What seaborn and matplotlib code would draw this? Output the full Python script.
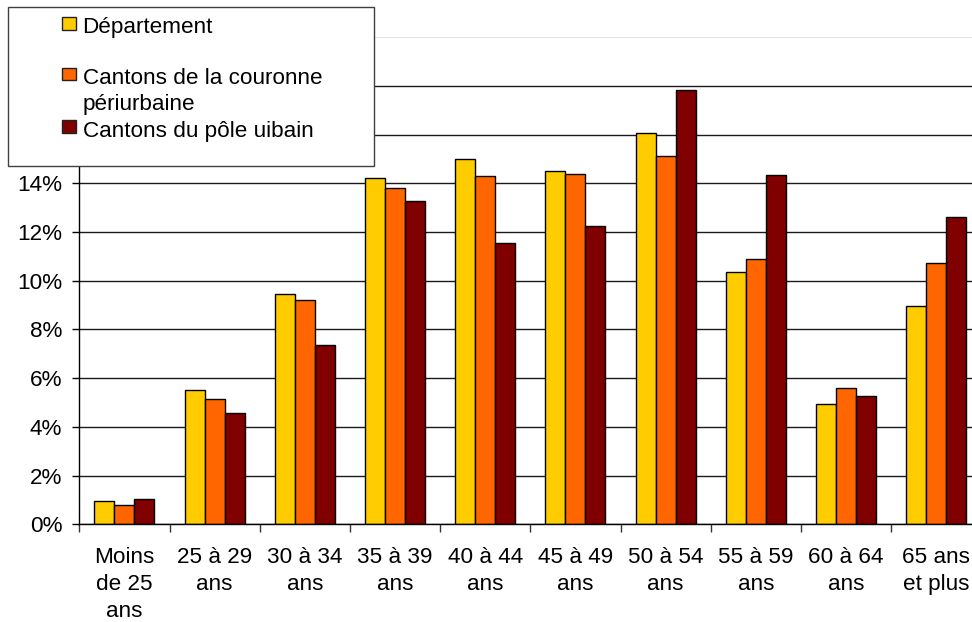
import numpy as np
import pandas as pd
import matplotlib
matplotlib.use("Agg")
import matplotlib.pyplot as plt
from matplotlib.patches import Rectangle
from matplotlib.ticker import FixedLocator, FuncFormatter
import seaborn as sns

# ---- data ----
categories = ["Moins\nde 25\nans", "25 à 29\nans", "30 à 34\nans", "35 à 39\nans",
              "40 à 44\nans", "45 à 49\nans", "50 à 54\nans", "55 à 59\nans",
              "60 à 64\nans", "65 ans\net plus"]
series = ["Département", "Cantons de la couronne\npériurbaine", "Cantons du pôle uibain"]
departement = [0.94, 5.52, 9.47, 14.20, 15.00, 14.49, 16.05, 10.37, 4.94, 8.96]
couronne = [0.79, 5.15, 9.19, 13.82, 14.32, 14.37, 15.12, 10.88, 5.59, 10.74]
pole = [1.05, 4.55, 7.35, 13.29, 11.55, 12.23, 17.84, 14.34, 5.25, 12.60]
colors = ["#FFCC00", "#FF6600", "#800000"]
yticks = [0, 2, 4, 6, 8, 10, 12, 14, 16, 18, 20]

df = pd.DataFrame({
    "age": categories * 3,
    "serie": [series[0]] * 10 + [series[1]] * 10 + [series[2]] * 10,
    "value": departement + couronne + pole,
})

sns.set_style("white")
plt.rcParams["font.family"] = ["Liberation Sans", "DejaVu Sans"]
FS = 16.2

W, H = 972, 622
fig = plt.figure(figsize=(W / 100, H / 100), dpi=100)
left_px, right_px, top_px, bottom_px = 79.3, 981.3, 37.2, 524.2
ax = fig.add_axes([left_px / W, 1 - bottom_px / H,
                   (right_px - left_px) / W, (bottom_px - top_px) / H])

sns.barplot(data=df, x="age", y="value", hue="serie", order=categories,
            hue_order=series, palette=colors, saturation=1, width=0.665, dodge=True,
            edgecolor="black", linewidth=1.0, legend=False, ax=ax, zorder=3)

ax.set_xlim(-0.5, len(categories) - 0.5)
ax.set_ylim(0, 20)
ax.set_xlabel("")
ax.set_ylabel("")

ax.yaxis.set_major_locator(FixedLocator(yticks))
ax.yaxis.set_major_formatter(FuncFormatter(lambda v, p: f"{v:.0f}%"))
ax.set_axisbelow(True)
ax.yaxis.grid(True, color="#1a1a1a", linewidth=1.0)
ax.xaxis.grid(False)
gls = ax.get_ygridlines()
gls[-1].set_color("#e6e6e6")
gls[-1].set_linewidth(1.5)

for s in ["top", "right"]:
    ax.spines[s].set_visible(False)
for s in ["left", "bottom"]:
    ax.spines[s].set_color("black")
    ax.spines[s].set_linewidth(1.0)
    ax.spines[s].set_zorder(4)

ax.tick_params(axis="y", which="major", left=True, length=5, width=1.0,
               color="black", pad=7.2, labelsize=FS, labelcolor="black")
ax.xaxis.set_minor_locator(FixedLocator(np.arange(-0.5, len(categories), 1.0)))
ax.tick_params(axis="x", which="minor", bottom=True, length=5.8, width=1.0, color="#333333")
ax.tick_params(axis="x", which="major", bottom=False, length=0, pad=16.5,
               labelsize=FS, labelcolor="black")
for t in ax.get_xticklabels():
    t.set_linespacing(1.37)
    t.set_horizontalalignment("center")

# ---- legend box (drawn over the axes) ----
def fx(px):
    return px / W

def fy(py):
    return 1 - py / H

box = Rectangle((fx(8.3), fy(166.5)), fx(374.3) - fx(8.3), fy(6.7) - fy(166.5),
                transform=fig.transFigure, facecolor="white", edgecolor="#404040",
                linewidth=1.0, zorder=10)
fig.add_artist(box)
baselines = [33.3, 84.0, 136.7]
line_pitch = 26.2
for lab, col, bl in zip(series, colors, baselines):
    sq = Rectangle((fx(62.3), fy(bl - 3.8)), fx(76.3) - fx(62.3), fy(bl - 16.3) - fy(bl - 3.8),
                   transform=fig.transFigure, facecolor=col, edgecolor="#222222",
                   linewidth=1.0, zorder=11)
    fig.add_artist(sq)
    for i, line in enumerate(lab.split("\n")):
        fig.text(fx(82.5), fy(bl + i * line_pitch), line, ha="left", va="baseline",
                 fontsize=FS, color="black", zorder=12)

fig.savefig("out.png", dpi=100)
